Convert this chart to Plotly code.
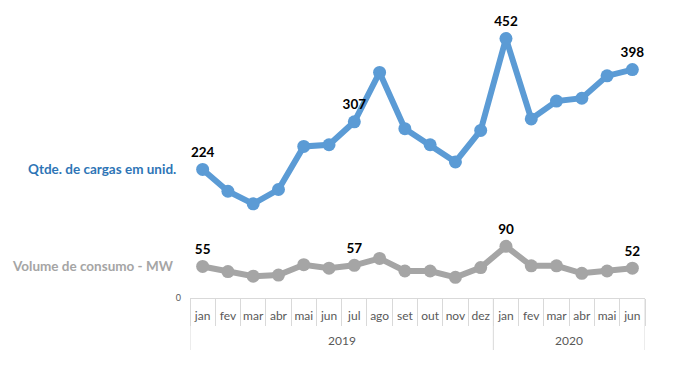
import plotly.graph_objects as go

years = ["2019"] * 12 + ["2020"] * 6
months = ["jan", "fev", "mar", "abr", "mai", "jun", "jul", "ago", "set", "out", "nov", "dez",
          "jan", "fev", "mar", "abr", "mai", "jun"]
cargas = [224, 186, 164, 189, 264, 267, 307, 393, 295, 267, 237, 292,
          452, 312, 343, 348, 387, 398]
consumo = [55, 46, 38, 40, 58, 52, 57, 69, 47, 47, 36, 53,
           90, 56, 56, 43, 47, 52]
label_idx = [0, 6, 12, 17]

idx = list(range(len(months)))
cargas_text = [str(v) if i in label_idx else "" for i, v in enumerate(cargas)]
consumo_text = [str(v) if i in label_idx else "" for i, v in enumerate(consumo)]

BLUE = "#5B9BD5"
GRAY = "#A5A5A5"
LINE = "#D9D9D9"
FONT = "Lato"

W, H = 669, 359
M = dict(l=182, r=32, t=3, b=69)
plot_h = H - M["t"] - M["b"]

fig = go.Figure()
fig.add_trace(go.Scatter(
    x=idx, y=cargas, mode="lines+markers+text",
    line=dict(color=BLUE, width=6), marker=dict(color=BLUE, size=13),
    text=cargas_text, textposition="top center",
    textfont=dict(family=FONT, size=13.5, color="#000000", weight="bold"),
    name="Qtde. de cargas em unid.", cliponaxis=False,
))
fig.add_trace(go.Scatter(
    x=idx, y=consumo, mode="lines+markers+text",
    line=dict(color=GRAY, width=6), marker=dict(color=GRAY, size=13),
    text=consumo_text, textposition="top center",
    textfont=dict(family=FONT, size=13.5, color="#000000", weight="bold"),
    name="Volume de consumo - MW", cliponaxis=False,
))

fig.add_annotation(x=0.0, xref="paper", y=cargas[0], yref="y", xshift=-12,
                   text="<b>Qtde. de cargas em unid.</b>", showarrow=False, xanchor="right",
                   font=dict(family=FONT, size=13.5, color="#2E75B6"))
fig.add_annotation(x=0.0, xref="paper", y=consumo[0], yref="y", xshift=-14,
                   text="<b>Volume de consumo - MW</b>", showarrow=False, xanchor="right",
                   font=dict(family=FONT, size=13.5, color=GRAY))

# year group labels and dividers
groups = []
for i, yv in enumerate(years):
    if not groups or groups[-1][0] != yv:
        groups.append([yv, i, i])
    else:
        groups[-1][2] = i
for yv, a, b in groups:
    fig.add_annotation(x=(a + b) / 2, xref="x", y=-43 / plot_h, yref="paper",
                       text=yv, showarrow=False, yanchor="middle",
                       font=dict(family=FONT, size=12, color="#595959"))
bounds = [groups[0][1] - 0.5] + [b + 0.5 for _, _, b in groups]
for bx in bounds:
    fig.add_shape(type="line", xref="x", yref="paper", x0=bx, x1=bx,
                  y0=0, y1=-52 / plot_h, line=dict(color=LINE, width=1))

fig.update_layout(
    width=W, height=H, margin=M,
    paper_bgcolor="white", plot_bgcolor="white",
    showlegend=False,
    font=dict(family=FONT, color="#595959"),
)
fig.update_xaxes(
    range=[-0.5, len(months) - 0.5], autorange=False,
    tickmode="array", tickvals=idx, ticktext=months, ticks="",
    showgrid=False, zeroline=False, showline=True, linecolor=LINE,
    tickangle=0, automargin=False, ticklabelstandoff=7,
    tickfont=dict(family=FONT, size=12, color="#595959"),
    minor=dict(tickmode="array", tickvals=[i - 0.5 for i in idx] + [len(months) - 0.5],
               ticks="outside", ticklen=27, tickcolor=LINE, showgrid=False),
)
fig.update_yaxes(
    range=[0, 500], tickvals=[0], showgrid=False, zeroline=False, showline=False,
    automargin=False, ticklabelstandoff=8,
    tickfont=dict(family=FONT, size=9, color="#595959"), ticks="",
)

fig.write_html("out.html")
